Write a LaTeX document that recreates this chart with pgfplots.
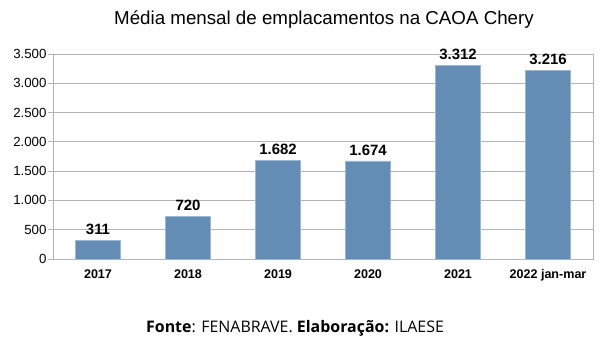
\documentclass[border=0pt]{standalone}
\usepackage{pgfplots}
\pgfplotsset{compat=1.18}
\usepackage{fontspec}
\setmainfont{Liberation Sans}
\newfontfamily\footfont{Open Sans}
\definecolor{barblue}{HTML}{648DB5}
\definecolor{baredge}{HTML}{9DB8D2}
\definecolor{gridgray}{HTML}{B3B3B3}
\begin{document}
\begin{tikzpicture}[x=1bp,y=1bp]
\path[use as bounding box] (0,0) rectangle (605,354);
\begin{axis}[
  at={(53bp,95bp)}, anchor=south west,
  width=540bp, height=205bp, scale only axis,
  xmin=-0.5, xmax=5.5, ymin=0, ymax=3500,
  ytick={0,500,...,3500},
  xtick={0,1,2,3,4,5},
  xticklabels={2017,2018,2019,2020,2021,2022 jan-mar},
  xticklabel style={font=\fontsize{12.6}{14}\selectfont\bfseries},
  yticklabel style={font=\fontsize{13.3}{15}\selectfont},
  /pgf/number format/assume math mode=true,
  /pgf/number format/1000 sep={.},
  major x tick style={draw=none},
  extra x ticks={-0.5,0.5,1.5,2.5,3.5,4.5,5.5},
  extra x tick labels={},
  extra x tick style={tick style={draw=gridgray}, major tick length=5bp, tick pos=lower, xtick align=outside, grid=none},
  ytick align=outside, ytick pos=left,
  major tick length=5bp,
  tick style={draw=gridgray, line width=0.8bp},
  ymajorgrids, grid style={draw=gridgray, line width=0.8bp},
  axis line style={draw=gridgray, line width=0.8bp},
  xticklabel shift=2bp,
  yticklabel shift=-2bp,
  ybar, bar width=45bp,
  nodes near coords,
  nodes near coords style={font=\fontsize{15}{17}\selectfont\bfseries, /pgf/number format/1000 sep={.}, /pgf/number format/assume math mode=true, yshift=2bp},
  clip=false,
]
\addplot[fill=barblue, draw=baredge, line width=0.8bp] coordinates {(0,311) (1,720) (2,1682) (3,1674) (4,3312) (5,3216)};
\end{axis}
\node at (324,334) {\fontsize{18.8}{22}\selectfont Média mensal de emplacamentos na CAOA Chery};
\node at (295,26) {\footfont\fontsize{16}{18}\selectfont \textbf{Fonte}: FENABRAVE. \textbf{Elaboração:} ILAESE};
\end{tikzpicture}
\end{document}
